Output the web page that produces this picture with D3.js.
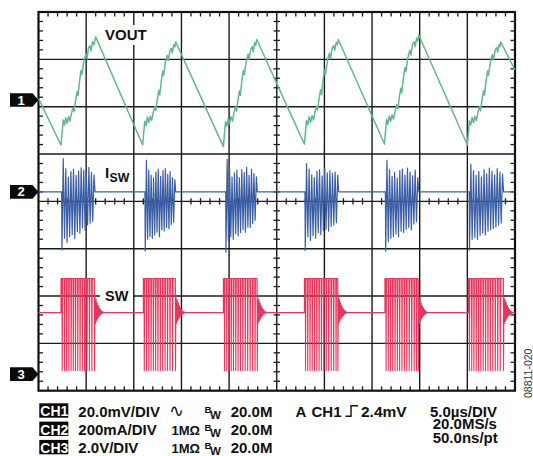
<!DOCTYPE html>
<html><head><meta charset="utf-8">
<script src="https://cdn.jsdelivr.net/npm/d3@7"></script>
<style>
html,body{margin:0;padding:0;background:#fff;}
svg{display:block;}
text{font-family:"Liberation Sans",Arial,Helvetica,sans-serif;}
</style></head>
<body><svg id="c" width="533" height="456"></svg>
<script>
// ---------------- DATA ----------------
const timeDomain = [0, 50];           // µs (10 div × 5 µs/div)
const divDomain = [-4, 4];            // vertical divisions
const ch1Scale = 20;                  // mV / div
const ch2Scale = 200;                 // mA / div
const ch3Scale = 2;                   // V / div

// CH1 VOUT [µs, mV]
const voutData = [
 [0,0.7],
 [2.36,-19.0],[2.60,-8.4],[2.73,-10.5],[2.85,-7.5],[3.0,-9.8],[3.15,-7.0],[3.3,-9.0],[3.45,-5.8],[3.62,-3.2],[3.73,-4.8],[3.9,0.2],[4.05,3.6],[4.15,1.8],[4.3,7.8],[4.46,12.5],[4.56,10.9],[4.77,16.8],[4.98,19.6],[5.09,17.4],[5.25,22.0],[5.4,23.0],[5.51,20.8],[5.67,24.6],[5.82,23.4],[6.0,26.7],
 [10.93,-19.0],[11.15,-9.0],[11.3,-10.8],[11.42,-7.2],[11.58,-9.5],[11.72,-6.8],[11.88,-8.6],[12.02,-5.5],[12.2,-2.8],[12.3,-4.4],[12.48,0.6],[12.62,4.0],[12.72,2.2],[12.88,8.0],[13.03,12.2],[13.13,10.4],[13.33,16.2],[13.52,18.9],[13.62,16.8],[13.8,21.0],[13.95,21.8],[14.05,19.9],[14.2,23.4],[14.3,22.4],[14.4,24.6],
 [19.4,-19.7],[19.62,-9.2],[19.76,-11.0],[19.9,-7.8],[20.05,-10.0],[20.2,-7.1],[20.35,-8.9],[20.5,-5.6],[20.66,-2.9],[20.77,-4.7],[20.94,0.4],[21.08,3.8],[21.18,2.0],[21.34,8.2],[21.5,12.6],[21.6,10.8],[21.8,16.6],[22.0,19.4],[22.1,17.2],[22.28,21.6],[22.43,22.6],[22.53,20.4],[22.68,24.2],[22.8,23.2],[22.9,25.6],
 [27.9,-18.6],[28.12,-8.6],[28.26,-10.4],[28.4,-7.0],[28.55,-9.4],[28.7,-6.6],[28.85,-8.4],[29.0,-5.2],[29.17,-2.6],[29.28,-4.2],[29.45,0.8],[29.6,4.2],[29.7,2.4],[29.86,8.4],[30.02,12.8],[30.12,11.0],[30.33,16.8],[30.53,19.8],[30.64,17.6],[30.82,22.0],[30.98,23.0],[31.08,21.0],[31.24,24.4],[31.36,23.4],[31.46,25.6],
 [36.3,-18.6],[36.52,-8.2],[36.66,-10.2],[36.8,-6.8],[36.95,-9.0],[37.1,-6.2],[37.26,-8.0],[37.42,-4.8],[37.58,-2.0],[37.7,-3.8],[37.87,1.4],[38.02,5.0],[38.12,3.0],[38.28,9.2],[38.45,13.8],[38.55,12.0],[38.76,18.0],[38.96,21.0],[39.07,19.0],[39.25,23.6],[39.41,24.6],[39.52,22.6],[39.68,26.2],[39.8,25.0],[39.9,27.5],
 [45.0,-19.0],[45.22,-8.8],[45.36,-10.6],[45.5,-7.4],[45.65,-9.6],[45.8,-6.8],[45.95,-8.7],[46.1,-5.4],[46.27,-2.7],[46.38,-4.5],[46.55,0.5],[46.7,3.9],[46.8,2.1],[46.96,8.0],[47.12,12.3],[47.22,10.5],[47.43,16.4],[47.63,19.2],[47.74,17.0],[47.92,21.2],[48.08,22.2],[48.18,20.2],[48.34,23.6],[48.42,22.6],[48.5,24.6],
 [50,12.7]
];

// CH2 ISW bursts (mA), alternating troughs / peaks
const iswStart = [2.43, 11.17, 19.64, 27.96, 36.4, 45.2];
const iswEnd   = [5.93, 14.4, 22.96, 31.5, 39.9, 48.8];
const iswValues = [
 [-246,141,-195,98,-214,62,-190,86,-180,96,-198,70,-168,88,-175,102,-152,92,-162,76,-140,104,-132,82,-124,72],
 [-250,134,-200,92,-188,70,-196,58,-182,84,-170,96,-190,66,-160,90,-165,98,-150,74,-156,86,-138,60,-128,52],
 [-255,138,-205,100,-190,64,-200,80,-176,92,-186,60,-172,94,-160,82,-170,104,-148,70,-150,96,-134,78,-120,64],
 [-248,120,-190,96,-205,72,-185,60,-195,88,-172,94,-180,68,-164,98,-158,80,-166,90,-146,78,-140,84,-130,70],
 [-250,134,-210,94,-196,66,-188,82,-178,58,-190,90,-166,96,-172,72,-158,100,-150,84,-160,68,-136,92,-126,60],
 [-246,117,-200,90,-192,70,-200,86,-184,62,-174,94,-182,76,-166,100,-160,88,-154,72,-148,98,-140,84,-132,76]
];

// CH3 SW node (V)
const swIdle = 2.6, swHigh = 4.04, swLow = 0.15, swBand = 3.35;
const swStep = [2.36, 11.0, 19.4, 27.9, 36.35, 45.1];
const swPulses = [
 [2.47,2.70,2.93,3.16,3.40,3.63,3.86,4.10,4.34,4.58,4.82,5.07,5.32,5.58,5.86],
 [11.08,11.32,11.55,11.79,12.03,12.27,12.51,12.76,13.01,13.26,13.52,13.78,14.05,14.36],
 [19.5,19.73,19.97,20.2,20.44,20.68,20.92,21.17,21.42,21.67,21.93,22.19,22.45,22.7,22.94],
 [28.0,28.23,28.47,28.7,28.94,29.18,29.42,29.67,29.92,30.17,30.43,30.69,30.95,31.2,31.4],
 [36.45,36.68,36.92,37.15,37.39,37.63,37.87,38.12,38.37,38.62,38.88,39.14,39.4,39.64,39.85],
 [45.2,45.44,45.67,45.91,46.15,46.39,46.64,46.89,47.14,47.39,47.65,47.91,48.17,48.43,48.78]
];
const swRing = [0.75,-0.45,0.55,-0.35,0.42,-0.26,0.3,-0.18,0.2,-0.12,0.13,-0.07,0.07,-0.04,0.03,0];

// channel reference markers (divisions from centre)
const chNames = ["1","2","3"];
const chOffsets = [2.14, 0.2, -3.65];

// readout text
const readRows = [
 {ch:"CH1", scale:"20.0mV/DIV", imp:"", bw:"20.0M"},
 {ch:"CH2", scale:"200mA/DIV", imp:"1MΩ", bw:"20.0M"},
 {ch:"CH3", scale:"2.0V/DIV", imp:"1MΩ", bw:"20.0M"}
];
const timebase = ["5.0µs/DIV","20.0MS/s","50.0ns/pt"];

// ---------------- DRAW ----------------
const svg = d3.select("#c");
const X0 = 38.5, X1 = 515, Y0 = 12, Y1 = 390.7;
const x = d3.scaleLinear().domain(timeDomain).range([X0, X1]);
const yd = d3.scaleLinear().domain(divDomain).range([Y1, Y0]);
const y1 = v => yd(chOffsets[0] + v / ch1Scale);
const y2 = v => yd(chOffsets[1] + v / ch2Scale);
const y3 = v => yd(chOffsets[2] + v / ch3Scale);
const xc = x(25), yc = yd(0);

const g = svg.append("g");
// grid
const vDivs = d3.range(1, 10).map(i => i * 5);
const hDivs = d3.range(-3, 4);
g.selectAll(".vg").data(vDivs).join("line")
 .attr("x1", d => x(d)).attr("x2", d => x(d)).attr("y1", Y0).attr("y2", Y1)
 .attr("stroke", "#1a1a1a").attr("stroke-width", 1.4);
g.selectAll(".hg").data(hDivs).join("line")
 .attr("y1", d => yd(d)).attr("y2", d => yd(d)).attr("x1", X0).attr("x2", X1)
 .attr("stroke", "#1a1a1a").attr("stroke-width", 1.4);
// minor ticks
const tMinor = d3.range(0, 51).filter(i => i % 5 !== 0);
const vMinor = d3.range(-20, 21).filter(i => i % 5 !== 0).map(i => i / 5);
const tk = g.append("g").attr("stroke", "#1a1a1a").attr("stroke-width", 1.3);
tMinor.forEach(t => {
  const xx = x(t);
  tk.append("line").attr("x1", xx).attr("x2", xx).attr("y1", Y0).attr("y2", Y0 + 4.5);
  tk.append("line").attr("x1", xx).attr("x2", xx).attr("y1", Y1 - 4.5).attr("y2", Y1);
  tk.append("line").attr("x1", xx).attr("x2", xx).attr("y1", yc - 3.2).attr("y2", yc + 3.2);
});
vMinor.forEach(v => {
  const yy = yd(v);
  tk.append("line").attr("y1", yy).attr("y2", yy).attr("x1", X0).attr("x2", X0 + 4.5);
  tk.append("line").attr("y1", yy).attr("y2", yy).attr("x1", X1 - 4.5).attr("x2", X1);
  tk.append("line").attr("y1", yy).attr("y2", yy).attr("x1", xc - 3.2).attr("x2", xc + 3.2);
});
g.append("rect").attr("x", X0).attr("y", Y0).attr("width", X1 - X0).attr("height", Y1 - Y0)
 .attr("fill", "none").attr("stroke", "#111").attr("stroke-width", 2.2);

// SW band fill
swStep.forEach((s, b) => {
  const last = swPulses[b][swPulses[b].length - 1];
  g.append("rect").attr("x", x(s)).attr("width", x(last) - x(s))
   .attr("y", y3(swHigh)).attr("height", y3(swBand) - y3(swHigh))
   .attr("fill", "#f38ea4").attr("opacity", 0.45);
});

// SW trace
const swPts = [[0, swIdle]];
swStep.forEach((s, b) => {
  swPts.push([s, swIdle], [s, swHigh]);
  const ps = swPulses[b];
  ps.forEach((p, i) => {
    if (i < ps.length - 1) {
      swPts.push([p, swHigh], [p + 0.02, swLow], [p + 0.06, swHigh]);
    } else {
      swPts.push([p, swHigh], [p + 0.02, swLow]);
      swRing.forEach((r, k) => swPts.push([p + 0.06 + k * 0.06, swIdle + r]));
    }
  });
});
swPts.push([50, swIdle]);
const line3 = d3.line().x(d => x(d[0])).y(d => y3(d[1]));
g.append("path").attr("d", line3(swPts)).attr("fill", "none")
 .attr("stroke", "#e5365c").attr("stroke-width", 1.1).attr("stroke-linejoin", "round");

// ISW trace
const iswPts = [[0, 0]];
iswStart.forEach((s, b) => {
  const vals = iswValues[b];
  const dt = (iswEnd[b] - s) / vals.length;
  iswPts.push([s, 0]);
  vals.forEach((v, i) => iswPts.push([s + 0.03 + i * dt, v]));
  iswPts.push([iswEnd[b], 0]);
});
iswPts.push([50, 0]);
const line2 = d3.line().x(d => x(d[0])).y(d => y2(d[1]));
g.append("path").attr("d", line2(iswPts)).attr("fill", "none")
 .attr("stroke", "#3a5ea4").attr("stroke-width", 1.2).attr("stroke-linejoin", "round");

// VOUT trace
const line1 = d3.line().x(d => x(d[0])).y(d => y1(d[1]));
g.append("path").attr("d", line1(voutData)).attr("fill", "none")
 .attr("stroke", "#62b88c").attr("stroke-width", 1.5).attr("stroke-linejoin", "round");

// trace labels with white boxes
function label(parts, bx) {
  const t = g.append("g");
  t.append("rect").attr("x", bx[0]).attr("y", bx[1]).attr("width", bx[2]).attr("height", bx[3]).attr("fill", "#fff");
  const tx = t.append("text").attr("x", parts[0].x).attr("y", parts[0].y).attr("font-weight", "bold").attr("fill", "#111");
  parts.forEach((p, i) => tx.append("tspan").attr("x", p.x).attr("dy", i === 0 ? 0 : p.y - parts[i - 1].y)
    .attr("font-size", p.s).text(p.t));
}
label([{t:"VOUT", x:105, y:40, s:15}], [101, 25, 50, 20]);
label([{t:"I", x:105, y:178.3, s:15}, {t:"SW", x:109.5, y:181.7, s:12.3}], [101, 164, 31, 21]);
label([{t:"SW", x:105, y:300.7, s:14.5}], [100, 287, 33, 17]);

// channel markers
chOffsets.forEach((o, i) => {
  const yy = yd(o);
  g.append("path").attr("d", `M10,${yy - 6.8}H32.5L38.5,${yy}L32.5,${yy + 6.8}H10Z`).attr("fill", "#0a0a0a");
  g.append("text").attr("x", 21).attr("y", yy + 4.6).attr("text-anchor", "middle")
   .attr("font-size", 13).attr("font-weight", "bold").attr("fill", "#fff").text(chNames[i]);
});

// readout
const rowBase = [416.7, 435, 453.3];
readRows.forEach((r, i) => {
  const b = rowBase[i];
  g.append("rect").attr("x", 39.3).attr("y", b - 13.4).attr("width", 29).attr("height", 14.4).attr("fill", "#0a0a0a");
  g.append("text").attr("x", 40.3).attr("y", b - 0.3).attr("font-size", 14).attr("font-weight", "bold")
   .attr("fill", "#fff").text(r.ch);
  const tt = (s, xx, yy, fs) => g.append("text").attr("x", xx).attr("y", yy).attr("font-size", fs)
   .attr("font-weight", "bold").attr("fill", "#111").text(s);
  tt(r.scale, 78.3, b, 15);
  if (r.imp) tt(r.imp, 171.5, b, 13);
  const bw = g.append("text").attr("x", 204.5).attr("y", b - 4.2).attr("font-weight", "bold").attr("fill", "#111");
  bw.append("tspan").attr("font-size", 9.8).text("B");
  bw.append("tspan").attr("x", 210).attr("dy", 6).attr("font-size", 11.5).text("W");
  tt(r.bw, 230.7, b, 15);
});
// coupling symbol
g.append("text").attr("x", 168.5).attr("y", 417).attr("font-family", "DejaVu Sans").attr("font-size", 18)
 .attr("fill", "#111").text("∿");
// trigger
const tb = rowBase[0];
g.append("text").attr("x", 295.5).attr("y", tb).attr("font-size", 15).attr("font-weight", "bold").attr("fill", "#111").text("A");
g.append("text").attr("x", 311.5).attr("y", tb).attr("font-size", 15).attr("font-weight", "bold").attr("fill", "#111").text("CH1");
g.append("path").attr("d", `M345.5,${tb - 0.5}H351V${tb - 11}H358`).attr("fill", "none").attr("stroke", "#111").attr("stroke-width", 1.4);
g.append("text").attr("x", 361).attr("y", tb).attr("font-size", 15.5).attr("font-weight", "bold").attr("fill", "#111").text("2.4mV");
// timebase (one text block, stacked lines)
const tbY = [416.5, 429, 443];
const tbt = g.append("text").attr("x", 430).attr("y", tbY[0]).attr("font-size", 15).attr("font-weight", "bold").attr("fill", "#111");
timebase.forEach((s, i) => tbt.append("tspan").attr("x", i === 0 ? 430 : 432.7)
  .attr("dy", i === 0 ? 0 : tbY[i] - tbY[i - 1]).text(s));
// figure id
g.append("text").attr("transform", "translate(531.5,398) rotate(-90)").attr("font-size", 10.5)
 .attr("fill", "#333").text("08811-020");
</script></body></html>
